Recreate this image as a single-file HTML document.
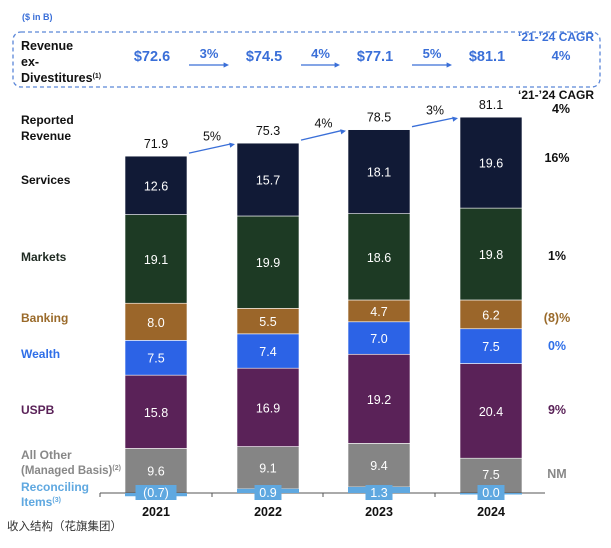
<!DOCTYPE html>
<html><head><meta charset="utf-8"><style>
body{margin:0;background:#fff;width:611px;height:543px;overflow:hidden;font-family:"Liberation Sans","Noto Sans CJK SC",sans-serif}
svg text{font-family:"Liberation Sans","Noto Sans CJK SC",sans-serif}
</style></head><body>
<svg id="c" width="611" height="543" xmlns="http://www.w3.org/2000/svg">
<text x="22" y="20" font-size="9" fill="#3a6fd8" font-weight="bold">($ in B)</text>
<rect x="13" y="32" width="587" height="55" rx="8" fill="none" stroke="#5a86d8" stroke-dasharray="4,3" stroke-width="1.3"/>
<g font-size="12.5" font-weight="bold" fill="#111">
<text x="21" y="50">Revenue</text><text x="21" y="66">ex-</text><text x="21" y="82">Divestitures<tspan font-size="7" dy="-4">(1)</tspan></text></g>
<text x="518" y="41" font-size="12" font-weight="bold" fill="#3a6fd8">‘21-’24 CAGR</text>
<text x="561" y="60" font-size="13" font-weight="bold" fill="#3a6fd8" text-anchor="middle">4%</text>
<g id="exdiv"></g>
<text x="518" y="99" font-size="12" font-weight="bold" fill="#111">‘21-’24 CAGR</text>
<g font-size="12" font-weight="bold">
<text x="21" y="124" fill="#111">Reported</text><text x="21" y="140" fill="#111">Revenue</text>
<text x="21" y="184" fill="#111">Services</text>
<text x="21" y="261" fill="#1f2a22">Markets</text>
<text x="21" y="322" fill="#9a6a2a">Banking</text>
<text x="21" y="358" fill="#2f6fe8">Wealth</text>
<text x="21" y="414" fill="#5a2258">USPB</text>
<text x="21" y="459" fill="#888">All Other</text>
<text x="21" y="474" fill="#888" font-size="11.5">(Managed Basis)<tspan font-size="7" dy="-4">(2)</tspan></text>
<text x="21" y="491" fill="#5fa8e0">Reconciling</text>
<text x="21" y="506" fill="#5fa8e0">Items<tspan font-size="7" dy="-4">(3)</tspan></text>
</g>
<g id="bars"></g>
<g id="labels"></g>
<line x1="100" y1="493" x2="545" y2="493" stroke="#555" stroke-width="1"/>
<g id="recon"></g>
<text x="7" y="530" font-size="11.5" fill="#333">收入结构（花旗集团）</text>
</svg>
<script>
const years=["2021","2022","2023","2024"];
const services=[12.6,15.7,18.1,19.6];
const markets=[19.1,19.9,18.6,19.8];
const banking=[8.0,5.5,4.7,6.2];
const wealth=[7.5,7.4,7.0,7.5];
const uspb=[15.8,16.9,19.2,20.4];
const allOther=[9.6,9.1,9.4,7.5];
const reconciling=[-0.7,0.9,1.3,0.0];
const reported=[71.9,75.3,78.5,81.1];
const reportedGrowth=["5%","4%","3%"];
const exDiv=[72.6,74.5,77.1,81.1];
const exDivGrowth=["3%","4%","5%"];
const cagr=["16%","1%","(8)%","0%","9%","NM"];
const NS="http://www.w3.org/2000/svg";
const base=493,scale=4.64,barW=62,lefts=[125,237,348,460];
const y=v=>base-v*scale;
function mk(tag,attrs,parent,txt){const e=document.createElementNS(NS,tag);for(const k in attrs)e.setAttribute(k,attrs[k]);if(txt!==undefined)e.textContent=txt;parent.appendChild(e);return e;}
const g=document.getElementById('bars'),ex=document.getElementById('exdiv'),lg=document.getElementById('labels'),rg=document.getElementById('recon');
const series=[["reconciling",reconciling,"#5fa8e0"],["all-other",allOther,"#858585"],["uspb",uspb,"#5a2258"],["wealth",wealth,"#2c63e6"],["banking",banking,"#9b662a"],["markets",markets,"#1d3a24"],["services",services,"#111a36"]];
const cagrColors=["#111","#111","#9a6a2a","#2f6fe8","#5a2258","#888"];
const tops=[];
years.forEach((yr,i)=>{
  let cum=0;const x=lefts[i];
  series.forEach(([nm,arr,col])=>{
    const v=arr[i];
    if(nm==="reconciling"){
      const r=mk('rect',{x:x,y:Math.min(y(0),y(v)),width:barW,height:Math.max(Math.abs(v)*scale,1.5),fill:col},rg);
      
      
      const txt=v<0?"("+Math.abs(v).toFixed(1)+")":v.toFixed(1);
      const bw=txt.length*7+6;
      const b=mk('rect',{x:x+barW/2-bw/2,y:base-8,width:bw,height:15,fill:"#5fa8e0"},rg);
      
      
      const t=mk('text',{x:x+barW/2,y:base+4,"font-size":12.5,fill:"#fff","text-anchor":"middle"},rg,txt);
      
      
      if(v>0)cum+=v;
      return;
    }
    const y0=y(cum),y1=y(cum+v);
    const r=mk('rect',{x:x,y:y1,width:barW,height:y0-y1,fill:col,stroke:"#fff","stroke-width":0.6},g);
    
    
    const ly=nm==="all-other"?Math.min((y0+y1)/2+5,base-14):(y0+y1)/2+5;
    const t=mk('text',{x:x+barW/2,y:ly,"font-size":12.5,fill:"#fff","text-anchor":"middle"},lg,v.toFixed(1));
    
    
    cum+=v;
  });
  tops.push(y(cum));
  const tt=mk('text',{x:x+barW/2,y:y(cum)-8,"font-size":12.5,fill:"#111","text-anchor":"middle"},g,reported[i].toFixed(1));
  
  
  const yl=mk('text',{x:x+barW/2,y:516,"font-size":12.5,"font-weight":"bold",fill:"#111","text-anchor":"middle"},g,yr);
  
  
  const tk=mk('line',{x1:x-25,y1:base,x2:x-25,y2:base+4,stroke:"#555"},g);
  
  
  const ev=mk('text',{x:x+barW/2-4,y:61,"font-size":14.5,"font-weight":"bold",fill:"#3a6fd8","text-anchor":"middle"},ex,"$"+exDiv[i].toFixed(1));
  
  
});
function arrow(x1,y1,x2,y2,parent,name){
  const l=mk('line',{x1:x1,y1:y1,x2:x2-5,y2:y2,stroke:"#3a6fd8","stroke-width":1.3},parent);
  
  
  const a=Math.atan2(y2-y1,x2-x1),s=6;
  const p=mk('polygon',{points:`${x2},${y2} ${x2-s*Math.cos(a-0.45)},${y2-s*Math.sin(a-0.45)} ${x2-s*Math.cos(a+0.45)},${y2-s*Math.sin(a+0.45)}`,fill:"#3a6fd8"},parent);
  
  
}
for(let i=0;i<3;i++){
  const x1=lefts[i]+barW+2,x2=lefts[i+1]-2;
  arrow(x1,tops[i]-3,x2,tops[i+1]+1,g,'growth-arrow-'+i);
  const t=mk('text',{x:(x1+x2)/2,y:(tops[i]+tops[i+1])/2-9,"font-size":12.5,fill:"#111","text-anchor":"middle"},g,reportedGrowth[i]);
  
  
  const ex1=lefts[i]+barW+2,ex2=lefts[i+1]-8;
  arrow(ex1,65,ex2,65,ex,'ex-div-arrow-'+i);
  const et=mk('text',{x:(ex1+ex2)/2,y:58,"font-size":13,"font-weight":"bold",fill:"#3a6fd8","text-anchor":"middle"},ex,exDivGrowth[i]);
  
  
}
const ct=mk('text',{x:561,y:113,"font-size":12.5,"font-weight":"bold",fill:"#111","text-anchor":"middle"},g,"4%");


const cy=[162,260,322,350,414,478];
cagr.forEach((c,i)=>{
  const t=mk('text',{x:557,y:cy[i],"font-size":12.5,"font-weight":"bold",fill:cagrColors[i],"text-anchor":"middle"},g,c);
  
  
});
</script>
</body></html>
